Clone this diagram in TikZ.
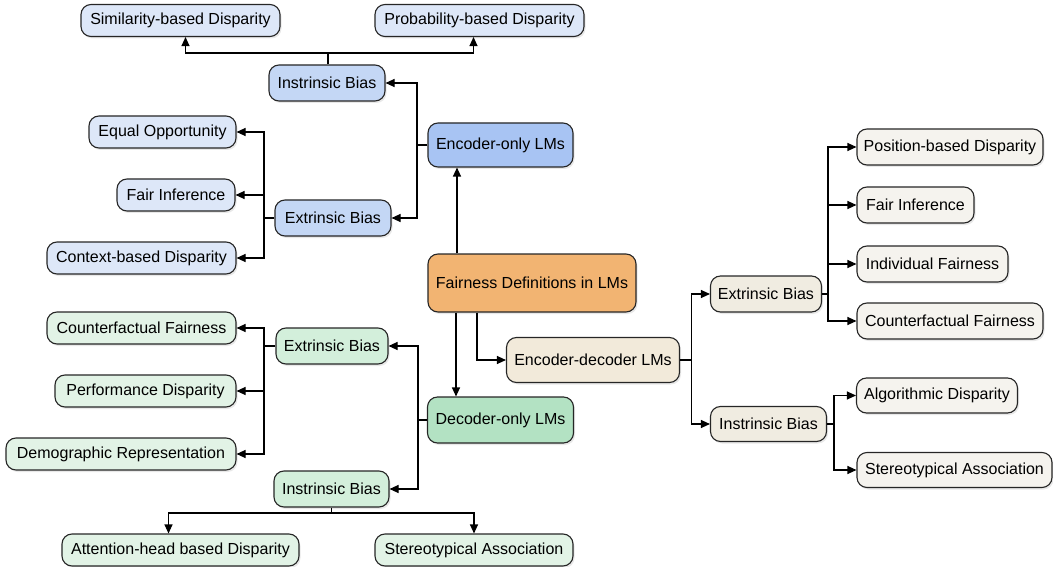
\documentclass[tikz,border=0pt]{standalone}
\usepackage{fontspec}
\setmainfont{Liberation Sans}
\usetikzlibrary{arrows.meta,shadows}

\definecolor{bluedark}{HTML}{A8C4F3}
\definecolor{bluemid}{HTML}{C4D7F5}
\definecolor{bluelight}{HTML}{DDE7F8}
\definecolor{orangec}{HTML}{F2B472}
\definecolor{greendark}{HTML}{B3E2C3}
\definecolor{greenmid}{HTML}{D3EFDB}
\definecolor{greenlight}{HTML}{E2F3E6}
\definecolor{beigedark}{HTML}{F2EADA}
\definecolor{beigemid}{HTML}{F0ECE1}
\definecolor{beigelight}{HTML}{F5F3EE}

\tikzset{
  box/.style={draw=black!85, line width=1.1pt, rounded corners=10pt,
    inner sep=0pt, align=center,
    font=\fontsize{16}{19}\selectfont,
    drop shadow={opacity=0.18, shadow xshift=1.5pt, shadow yshift=-2pt}},
  leafbox/.style={box, minimum height=32pt},
  midbox/.style={box, minimum height=36pt},
  link/.style={line width=1.1pt, draw=black},
  arr/.style={link, -{Triangle[length=9pt,width=8pt]}},
}

\begin{document}
\begin{tikzpicture}[x=1pt,y=-1pt]
\useasboundingbox (0,0) rectangle (1053,567);

% ---- root and the three model families
\node[box, fill=orangec, minimum width=208pt, minimum height=58pt] (root) at (532,283) {Fairness Definitions in LMs};
\node[box, fill=bluedark, minimum width=145pt, minimum height=44pt] (enc) at (500.5,145) {Encoder-only LMs};
\node[box, fill=beigedark, minimum width=173pt, minimum height=45pt] (encdec) at (593,360) {Encoder-decoder LMs};
\node[box, fill=greendark, minimum width=146pt, minimum height=46pt] (dec) at (500.5,420) {Decoder-only LMs};

% ---- encoder-only branch
\node[midbox, fill=bluemid, minimum width=116pt] (encI) at (327,83) {Instrinsic Bias};
\node[midbox, fill=bluemid, minimum width=116pt] (encE) at (333,218) {Extrinsic Bias};
\node[leafbox, fill=bluelight, minimum width=199pt] (sim) at (180.5,20.5) {Similarity-based Disparity};
\node[leafbox, fill=bluelight, minimum width=209pt] (prob) at (479.5,20.5) {Probability-based Disparity};
\node[leafbox, fill=bluelight, minimum width=147pt] (eqop) at (162.5,132) {Equal Opportunity};
\node[leafbox, fill=bluelight, minimum width=118pt] (fairA) at (176,195) {Fair Inference};
\node[leafbox, fill=bluelight, minimum width=189pt] (ctx) at (141.5,258) {Context-based Disparity};

% ---- decoder-only branch
\node[midbox, fill=greenmid, minimum width=112pt] (decE) at (332,346) {Extrinsic Bias};
\node[midbox, fill=greenmid, minimum width=115pt] (decI) at (331.5,489) {Instrinsic Bias};
\node[leafbox, fill=greenlight, minimum width=189pt] (cfA) at (141.5,328) {Counterfactual Fairness};
\node[leafbox, fill=greenlight, minimum width=181pt] (perf) at (145.5,391) {Performance Disparity};
\node[leafbox, fill=greenlight, minimum width=230pt] (demo) at (121,454) {Demographic Representation};
\node[leafbox, fill=greenlight, minimum width=237pt] (att) at (180.5,550) {Attention-head based Disparity};
\node[leafbox, fill=greenlight, minimum width=198pt] (stA) at (474,550) {Stereotypical Association};

% ---- encoder-decoder branch
\node[midbox, fill=beigemid, minimum width=111pt] (edE) at (766,294) {Extrinsic Bias};
\node[midbox, fill=beigemid, minimum width=116pt, minimum height=35pt] (edI) at (768.5,424) {Instrinsic Bias};
\node[midbox, fill=beigelight, minimum width=186pt] (pos) at (950,147) {Position-based Disparity};
\node[midbox, fill=beigelight, minimum width=117pt] (fairB) at (915.5,205) {Fair Inference};
\node[midbox, fill=beigelight, minimum width=151pt] (indiv) at (932.5,264) {Individual Fairness};
\node[midbox, fill=beigelight, minimum width=186pt] (cfB) at (950,321) {Counterfactual Fairness};
\node[midbox, fill=beigelight, minimum width=161pt, minimum height=35pt] (algo) at (937,395.5) {Algorithmic Disparity};
\node[midbox, fill=beigelight, minimum width=195pt, minimum height=35pt] (stB) at (954.5,470) {Stereotypical Association};

% ---- junction points of the connectors
\coordinate (upX) at (457,0);
\coordinate (downX) at (456,0);
\coordinate (sideX) at (477,0);
\coordinate (busEnc) at (417,145);
\coordinate (busEncE) at (264,218);
\coordinate (busEncI) at (328,53);
\coordinate (busDec) at (418,420);
\coordinate (busDecE) at (264,346);
\coordinate (busDecI) at (331.5,513);
\coordinate (busED) at (691.5,360);
\coordinate (busEDE) at (828,294);
\coordinate (busEDI) at (834,424);

% root to the families
\draw[arr] (root.north -| upX) -- (enc.south -| upX);
\draw[arr] (root.south -| downX) -- (dec.north -| downX);
\draw[arr] (root.south -| sideX) |- (encdec.west);

% encoder-only
\draw[link] (enc.west) -- (busEnc);
\draw[arr] (busEnc) |- (encI.east);
\draw[arr] (busEnc) |- (encE.east);
\draw[link] (encI.north -| busEncI) -- (busEncI);
\draw[arr] (busEncI) -| ([xshift=5pt]sim.south);
\draw[arr] (busEncI) -| ([xshift=-6pt]prob.south);
\draw[link] (encE.west) -- (busEncE);
\draw[arr] (busEncE) |- (eqop.east);
\draw[arr] (busEncE) |- (fairA.east);
\draw[arr] (busEncE) |- (ctx.east);

% decoder-only
\draw[link] (dec.west) -- (busDec);
\draw[arr] (busDec) |- (decE.east);
\draw[arr] (busDec) |- (decI.east);
\draw[link] (decE.west) -- (busDecE);
\draw[arr] (busDecE) |- (cfA.east);
\draw[arr] (busDecE) |- (perf.east);
\draw[arr] (busDecE) |- (demo.east);
\draw[link] (decI.south) -- (busDecI);
\draw[arr] (busDecI) -| ([xshift=-12pt]att.north);
\draw[arr] (busDecI) -| (stA.north);

% encoder-decoder
\draw[link] (encdec.east) -- (busED);
\draw[arr] (busED) |- (edE.west);
\draw[arr] (busED) |- (edI.west);
\draw[link] (edE.east) -- (busEDE);
\draw[arr] (busEDE) |- (pos.west);
\draw[arr] (busEDE) |- (fairB.west);
\draw[arr] (busEDE) |- (indiv.west);
\draw[arr] (busEDE) |- (cfB.west);
\draw[link] (edI.east) -- (busEDI);
\draw[arr] (busEDI) |- (algo.west);
\draw[arr] (busEDI) |- (stB.west);
\end{tikzpicture}
\end{document}
